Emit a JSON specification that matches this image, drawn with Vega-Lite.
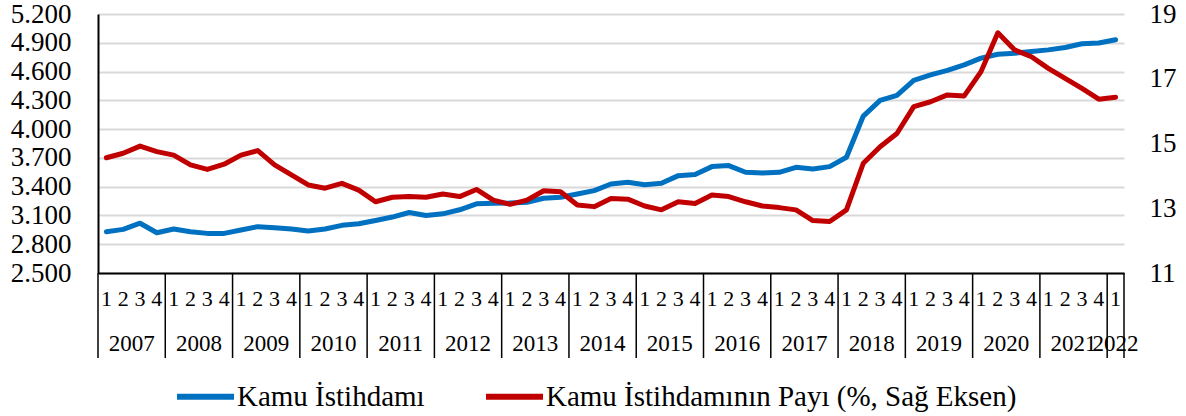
{
  "$schema": "https://vega.github.io/schema/vega-lite/v6.json",
  "padding": {"left": 10, "top": 0, "right": 5, "bottom": 0},
  "background": "white",
  "config": {
    "view": {"stroke": null},
    "font": "Liberation Serif",
    "axis": {"labelFont": "Liberation Serif", "labelColor": "black"},
    "legend": {"labelFont": "Liberation Serif", "labelColor": "black"}
  },
  "datasets": {
    "q": [
      {"period": "2007-1", "year": 2007, "q": 1, "kamu": 2930, "pay": 14.56},
      {"period": "2007-2", "year": 2007, "q": 2, "kamu": 2955, "pay": 14.70},
      {"period": "2007-3", "year": 2007, "q": 3, "kamu": 3019, "pay": 14.92},
      {"period": "2007-4", "year": 2007, "q": 4, "kamu": 2920, "pay": 14.75},
      {"period": "2008-1", "year": 2008, "q": 1, "kamu": 2959, "pay": 14.64},
      {"period": "2008-2", "year": 2008, "q": 2, "kamu": 2930, "pay": 14.34},
      {"period": "2008-3", "year": 2008, "q": 3, "kamu": 2913, "pay": 14.20},
      {"period": "2008-4", "year": 2008, "q": 4, "kamu": 2913, "pay": 14.36},
      {"period": "2009-1", "year": 2009, "q": 1, "kamu": 2948, "pay": 14.64},
      {"period": "2009-2", "year": 2009, "q": 2, "kamu": 2983, "pay": 14.78},
      {"period": "2009-3", "year": 2009, "q": 3, "kamu": 2972, "pay": 14.34},
      {"period": "2009-4", "year": 2009, "q": 4, "kamu": 2959, "pay": 14.03},
      {"period": "2010-1", "year": 2010, "q": 1, "kamu": 2938, "pay": 13.72},
      {"period": "2010-2", "year": 2010, "q": 2, "kamu": 2959, "pay": 13.62},
      {"period": "2010-3", "year": 2010, "q": 3, "kamu": 2997, "pay": 13.77},
      {"period": "2010-4", "year": 2010, "q": 4, "kamu": 3014, "pay": 13.56},
      {"period": "2011-1", "year": 2011, "q": 1, "kamu": 3048, "pay": 13.20},
      {"period": "2011-2", "year": 2011, "q": 2, "kamu": 3083, "pay": 13.34},
      {"period": "2011-3", "year": 2011, "q": 3, "kamu": 3131, "pay": 13.36},
      {"period": "2011-4", "year": 2011, "q": 4, "kamu": 3100, "pay": 13.34},
      {"period": "2012-1", "year": 2012, "q": 1, "kamu": 3117, "pay": 13.44},
      {"period": "2012-2", "year": 2012, "q": 2, "kamu": 3159, "pay": 13.36},
      {"period": "2012-3", "year": 2012, "q": 3, "kamu": 3221, "pay": 13.58},
      {"period": "2012-4", "year": 2012, "q": 4, "kamu": 3228, "pay": 13.25},
      {"period": "2013-1", "year": 2013, "q": 1, "kamu": 3231, "pay": 13.12},
      {"period": "2013-2", "year": 2013, "q": 2, "kamu": 3238, "pay": 13.25},
      {"period": "2013-3", "year": 2013, "q": 3, "kamu": 3279, "pay": 13.54},
      {"period": "2013-4", "year": 2013, "q": 4, "kamu": 3290, "pay": 13.51},
      {"period": "2014-1", "year": 2014, "q": 1, "kamu": 3324, "pay": 13.10},
      {"period": "2014-2", "year": 2014, "q": 2, "kamu": 3359, "pay": 13.05},
      {"period": "2014-3", "year": 2014, "q": 3, "kamu": 3428, "pay": 13.30},
      {"period": "2014-4", "year": 2014, "q": 4, "kamu": 3445, "pay": 13.28},
      {"period": "2015-1", "year": 2015, "q": 1, "kamu": 3421, "pay": 13.07},
      {"period": "2015-2", "year": 2015, "q": 2, "kamu": 3435, "pay": 12.95},
      {"period": "2015-3", "year": 2015, "q": 3, "kamu": 3515, "pay": 13.20},
      {"period": "2015-4", "year": 2015, "q": 4, "kamu": 3526, "pay": 13.15},
      {"period": "2016-1", "year": 2016, "q": 1, "kamu": 3609, "pay": 13.41},
      {"period": "2016-2", "year": 2016, "q": 2, "kamu": 3620, "pay": 13.36},
      {"period": "2016-3", "year": 2016, "q": 3, "kamu": 3550, "pay": 13.20},
      {"period": "2016-4", "year": 2016, "q": 4, "kamu": 3543, "pay": 13.07},
      {"period": "2017-1", "year": 2017, "q": 1, "kamu": 3550, "pay": 13.02},
      {"period": "2017-2", "year": 2017, "q": 2, "kamu": 3602, "pay": 12.95},
      {"period": "2017-3", "year": 2017, "q": 3, "kamu": 3585, "pay": 12.62},
      {"period": "2017-4", "year": 2017, "q": 4, "kamu": 3609, "pay": 12.59},
      {"period": "2018-1", "year": 2018, "q": 1, "kamu": 3707, "pay": 12.95},
      {"period": "2018-2", "year": 2018, "q": 2, "kamu": 4136, "pay": 14.39},
      {"period": "2018-3", "year": 2018, "q": 3, "kamu": 4300, "pay": 14.90},
      {"period": "2018-4", "year": 2018, "q": 4, "kamu": 4352, "pay": 15.31},
      {"period": "2019-1", "year": 2019, "q": 1, "kamu": 4509, "pay": 16.14},
      {"period": "2019-2", "year": 2019, "q": 2, "kamu": 4565, "pay": 16.29},
      {"period": "2019-3", "year": 2019, "q": 3, "kamu": 4612, "pay": 16.50},
      {"period": "2019-4", "year": 2019, "q": 4, "kamu": 4670, "pay": 16.47},
      {"period": "2020-1", "year": 2020, "q": 1, "kamu": 4740, "pay": 17.22},
      {"period": "2020-2", "year": 2020, "q": 2, "kamu": 4781, "pay": 18.42},
      {"period": "2020-3", "year": 2020, "q": 3, "kamu": 4791, "pay": 17.89},
      {"period": "2020-4", "year": 2020, "q": 4, "kamu": 4809, "pay": 17.68},
      {"period": "2021-1", "year": 2021, "q": 1, "kamu": 4826, "pay": 17.32},
      {"period": "2021-2", "year": 2021, "q": 2, "kamu": 4851, "pay": 17.01},
      {"period": "2021-3", "year": 2021, "q": 3, "kamu": 4890, "pay": 16.70},
      {"period": "2021-4", "year": 2021, "q": 4, "kamu": 4897, "pay": 16.37},
      {"period": "2022-1", "year": 2022, "q": 1, "kamu": 4931, "pay": 16.43}
    ]
  },
  "data": {"name": "q"},
  "spacing": 0,
  "bounds": "flush",
  "vconcat": [
    {
      "width": 1026,
      "height": 259,
      "layer": [
        {
          "mark": {"type": "line", "strokeWidth": 5, "strokeJoin": "round", "strokeCap": "round"},
          "encoding": {
            "x": {"field": "period", "type": "ordinal", "scale": {"type": "point", "padding": 0.5},
              "axis": {"title": null, "labels": false, "ticks": false, "grid": false, "domain": true, "domainColor": "black", "domainWidth": 2}},
            "y": {"field": "kamu", "type": "quantitative",
              "scale": {"domain": [2500, 5200], "nice": false, "zero": false},
              "axis": {"title": null, "orient": "left", "values": [2500, 2800, 3100, 3400, 3700, 4000, 4300, 4600, 4900, 5200],
                "labelExpr": "replace(format(datum.value, ','), ',', '.')",
                "labelFontSize": 27, "labelPadding": 27, "ticks": false,
                "domain": true, "domainColor": "black", "domainWidth": 2,
                "grid": true, "gridColor": "#d9d9d9", "gridWidth": 2}},
            "color": {"datum": "Kamu İstihdamı", "type": "nominal",
              "scale": {"domain": ["Kamu İstihdamı", "Kamu İstihdamının Payı (%, Sağ Eksen)"], "range": ["#0070C0", "#C00000"]},
              "legend": {"title": null, "orient": "none", "legendX": 76, "legendY": 351, "direction": "horizontal", "symbolType": "stroke",
                "symbolStrokeWidth": 6, "symbolSize": 3249, "labelFontSize": 29, "labelLimit": 0,
                "columnPadding": 49, "labelOffset": 0}}
          }
        },
        {
          "mark": {"type": "line", "strokeWidth": 5, "strokeJoin": "round", "strokeCap": "round"},
          "encoding": {
            "x": {"field": "period", "type": "ordinal", "scale": {"type": "point", "padding": 0.5}},
            "y": {"field": "pay", "type": "quantitative",
              "scale": {"domain": [11, 19], "nice": false, "zero": false},
              "axis": {"title": null, "orient": "right", "values": [11, 13, 15, 17, 19],
                "labelFontSize": 27, "labelPadding": 25, "ticks": false, "domain": false, "grid": false}},
            "color": {"datum": "Kamu İstihdamının Payı (%, Sağ Eksen)", "type": "nominal"}
          }
        }
      ],
      "resolve": {"scale": {"y": "independent"}}
    },
    {
      "width": 1026,
      "height": 85,
      "layer": [
        {
          "mark": {"type": "text", "fontSize": 22, "font": "Liberation Serif", "color": "black", "baseline": "middle", "dy": 5},
          "encoding": {
            "x": {"field": "period", "type": "ordinal", "bandPosition": 0.5, "scale": {"type": "band", "paddingInner": 0, "paddingOuter": 0}, "axis": null},
            "y": {"datum": "quarter", "type": "nominal", "bandPosition": 0.5, "scale": {"type": "band", "domain": ["quarter", "year"], "paddingInner": 0, "paddingOuter": 0}, "axis": null},
            "text": {"field": "q", "type": "nominal"}
          }
        },
        {
          "transform": [{"filter": "datum.q == 3"}],
          "mark": {"type": "text", "fontSize": 23, "font": "Liberation Serif", "color": "black", "baseline": "middle", "dy": 7},
          "encoding": {
            "x": {"field": "period", "type": "ordinal", "bandPosition": 0, "scale": {"type": "band", "paddingInner": 0, "paddingOuter": 0}, "axis": null},
            "y": {"datum": "year", "type": "nominal", "bandPosition": 0.5, "scale": {"type": "band", "domain": ["quarter", "year"], "paddingInner": 0, "paddingOuter": 0}, "axis": null},
            "text": {"field": "year", "type": "nominal"}
          }
        },
        {
          "transform": [{"filter": "datum.year == 2022"}],
          "mark": {"type": "text", "fontSize": 23, "font": "Liberation Serif", "color": "black", "baseline": "middle", "dy": 7},
          "encoding": {
            "x": {"field": "period", "type": "ordinal", "bandPosition": 0.5, "scale": {"type": "band", "paddingInner": 0, "paddingOuter": 0}, "axis": null},
            "y": {"datum": "year", "type": "nominal", "bandPosition": 0.5, "scale": {"type": "band", "domain": ["quarter", "year"], "paddingInner": 0, "paddingOuter": 0}, "axis": null},
            "text": {"field": "year", "type": "nominal"}
          }
        },
        {
          "transform": [{"filter": "datum.q == 1"}],
          "mark": {"type": "rule", "color": "black", "strokeWidth": 1.5},
          "encoding": {
            "x": {"field": "period", "type": "ordinal", "bandPosition": 0, "scale": {"type": "band", "paddingInner": 0, "paddingOuter": 0}, "axis": null}
          }
        },
        {
          "transform": [{"filter": "datum.period == '2022-1'"}],
          "mark": {"type": "rule", "color": "black", "strokeWidth": 1.5},
          "encoding": {
            "x": {"field": "period", "type": "ordinal", "bandPosition": 1, "scale": {"type": "band", "paddingInner": 0, "paddingOuter": 0}, "axis": null}
          }
        }
      ]
    }
  ]
}
